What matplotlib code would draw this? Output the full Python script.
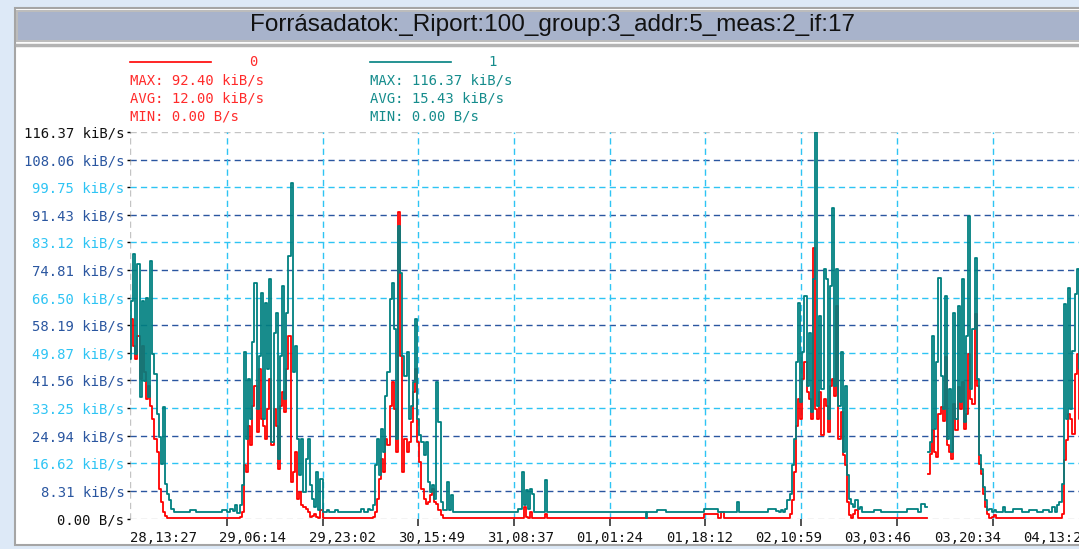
import numpy as np
import matplotlib
matplotlib.use('Agg')
import matplotlib.pyplot as plt
from matplotlib.patches import Rectangle
from matplotlib.lines import Line2D

W, H = 1079, 549

title = 'Forrásadatok:_Riport:100_group:3_addr:5_meas:2_if:17'

# y axis ticks / labels (kiB/s)
y_ticks = [0.00, 8.31, 16.62, 24.94, 33.25, 41.56, 49.87, 58.19, 66.50,
           74.81, 83.12, 91.43, 99.75, 108.06, 116.37]
y_labels = ['0.00 B/s', '8.31 kiB/s', '16.62 kiB/s', '24.94 kiB/s', '33.25 kiB/s',
            '41.56 kiB/s', '49.87 kiB/s', '58.19 kiB/s', '66.50 kiB/s', '74.81 kiB/s',
            '83.12 kiB/s', '91.43 kiB/s', '99.75 kiB/s', '108.06 kiB/s', '116.37 kiB/s']

# x axis: hours since 28,13:27
x_label_hours = [0.0, 16.79, 33.58, 50.37, 67.17, 83.96, 100.75, 117.54, 134.33, 151.12, 167.92]
x_labels = ['28,13:27', '29,06:14', '29,23:02', '30,15:49', '31,08:37', '01,01:24',
            '01,18:12', '02,10:59', '03,03:46', '03,20:34', '04,13:22']
x_grid_hours = [18.2, 36.2, 54.2, 72.2, 90.2, 108.2, 126.2, 144.2, 162.2, 180.2]

# legend
series_names = ['0', '1']
stat_max = ['92.40 kiB/s', '116.37 kiB/s']
stat_avg = ['12.00 kiB/s', '15.43 kiB/s']
stat_min = ['0.00 B/s', '0.00 B/s']

# busy periods, one sample every 0.4 h
sample_step = 0.4
burst_starts = [0.0, 20.4, 44.2, 122.2, 150.2, 175.0]

b1_teal = [48, 65.5, 79.5, 49.5, 76.5, 36.5, 65.5, 41.5, 66.5, 36.5,
           77.5, 49.5, 43.5, 31.5, 24.5, 16.5, 33.5, 10.5, 7.5, 5.5,
           3.0, 2.0]
b1_red = [50, 60, 52, 48, 55, 42, 52, 44, 36, 40,
          34, 30, 24, 20, 9, 5, 2, 0.8, 0.3, 0.1,
          0.1, 0.1]

b2_teal = [1.8, 4, 10, 50, 24, 42, 30, 53, 71, 33,
           49, 68, 30, 65, 45, 72, 23, 56, 62, 18,
           49, 70, 36, 62, 79, 101, 44, 52, 24, 13,
           24, 8, 18, 24, 10, 6, 3.5, 14, 2.5, 12,
           2, 2, 2.5, 2]
b2_red = [0.1, 0.5, 2, 16, 14, 28, 22, 34, 40, 26,
          45, 30, 28, 24, 33, 42, 22, 33, 28, 15,
          34, 38, 32, 45, 55, 11, 14, 20, 6, 8,
          4, 3.5, 3, 2, 0.5, 0.8, 1.5, 0.5, 0.3, 2.5,
          0.3, 0.1, 0.1, 0.1]

b3_teal = [2, 2, 3, 2.5, 4, 16, 24, 13, 27, 20,
           37, 44, 66, 71, 57, 24, 88, 74, 49, 43,
           50, 30, 34, 41, 60, 30, 25, 23, 19, 23,
           11, 8, 10, 6, 41, 29, 5, 2.5, 2.5, 11,
           2.5, 7, 2]
b3_red = [0.1, 0.1, 0.1, 0.3, 0.5, 2, 6, 12, 18, 14,
          24, 22, 34, 41, 33, 20, 92.4, 49, 14, 24,
          20, 23, 29, 38, 45, 23, 17, 9, 6, 4.5,
          5, 7, 9, 5, 4.5, 2.5, 1, 0.3, 0.1, 0.1,
          0.1, 0.1, 0.1]

b4_teal = [2, 2.5, 2, 3, 5.5, 7.5, 16, 24, 47, 65,
           35, 50, 67, 40, 56, 32, 72, 116.37, 34, 61,
           39, 75, 72, 30, 70, 93.5, 40, 75, 34, 50,
           20, 40, 13, 6, 4.5, 3.5, 5.5, 3, 3.5, 2,
           2]
b4_red = [0.1, 0.1, 0.1, 0.1, 0.3, 1.5, 5.5, 14, 28, 36,
          30, 42, 47, 38, 36, 30, 81.5, 33, 30, 38,
          25, 36, 34, 26, 40, 42, 37, 64, 24, 32,
          19, 16, 5, 1, 0.3, 1.5, 2.5, 0.3, 0.1, 0.1,
          0.1]

b5_teal = [20, 23, 55, 27, 47, 72.5, 43, 33, 67, 24,
           39, 20, 62, 30, 64, 35, 72, 29, 55, 91,
           39, 57, 78.5, 42, 19, 15, 9.5, 5.5, 2.5, 3,
           2, 2.5, 2, 2]
b5_red = [13.5, 19.5, 26.5, 20, 18.5, 31.5, 33.5, 29.5, 48.5, 22,
          20, 18, 34.5, 26.5, 39.5, 33, 41, 27, 31.5, 49.5,
          36, 34.5, 61.5, 40, 16.5, 13.5, 7.5, 3.5, 1.5, 0.1,
          0.5, 1, 0.1, 0.1]

b6_teal = [5, 10.5, 64.5, 30, 69.5, 33, 50.5, 67.5, 75, 45, 80]
b6_red = [0.3, 1.5, 17.5, 23.5, 31.5, 30, 25.5, 43.5, 49.5, 30, 45]

# quiet periods (irregular points), nan = missing data
nan = float('nan')
quiet_hours = [8.8, 10.5, 12.2, 12.5, 14.5, 16.5, 18.0, 18.4, 19.2, 19.6, 20.0,
               38.0, 39.0, 39.4, 41.0, 43.0, 43.8,
               61.6, 64.0, 67.0, 70.0, 72.4, 73.5, 74.0, 74.3, 74.6, 75.0, 75.4, 75.8,
               76.1, 77.8, 78.2, 78.6,
               82.7, 88.4, 94.0, 97.0, 97.2, 97.4, 100.6, 101.0, 105.3, 110.4, 110.7,
               111.5, 111.9, 114.1, 114.3, 114.7, 118.5, 121.3, 121.8,
               138.6, 141.0, 141.4, 144.0, 148.0, 148.5, 149.1, 149.7, 150.0,
               163.8, 164.3, 164.7, 167.5, 167.9, 170.3, 170.7, 172.6, 173.0, 173.7,
               174.1, 174.5]
quiet_teal = [2.0, 2.0, 2.6, 2.0, 2.0, 2.0, 2.6, 2.0, 3.0, 2.2, 4.0,
              2.0, 2.5, 2.0, 2.0, 2.0, 2.8,
              2.0, 2.0, 2.0, 2.0, 2.0, 2.8, 14.0, 4.0, 8.5, 3.0, 9.0, 7.5,
              2.0, 2.0, 11.7, 2.0,
              2.0, 2.0, 2.0, 2.0, 0.3, 2.0, 2.7, 2.0, 2.0, 3.0, 2.0,
              2.0, 2.0, 2.0, 5.0, 2.0, 2.0, 3.0, 2.2,
              2.0, 2.5, 2.0, 2.0, 3.0, 2.0, 4.5, 3.5, nan,
              2.0, 3.5, 2.0, 3.0, 2.0, 2.5, 2.0, 2.5, 2.0, 3.5,
              2.0, 4.0]
quiet_red = [0.1, 0.1, 0.1, 0.1, 0.1, 0.1, 0.1, 0.1, 0.1, 0.1, 0.1,
             0.1, 0.1, 0.1, 0.1, 0.1, 0.1,
             0.1, 0.1, 0.1, 0.1, 0.1, 0.1, 0.3, 3.5, 0.5, 0.3, 2.0, 0.3,
             0.1, 0.1, 1.5, 0.1,
             0.1, 0.1, 0.1, 0.1, 0.1, 0.1, 0.1, 0.1, 0.1, 1.5, 0.1,
             2.0, 0.1, 0.1, 0.1, 0.1, 0.1, 0.1, 0.1,
             0.1, 0.1, 0.1, 0.1, 0.1, 0.1, 0.1, 0.1, nan,
             0.1, 0.1, 0.1, 0.1, 0.1, 0.1, 0.1, 0.1, 0.1, 0.1,
             0.1, 0.1]

RED = '#ff0000'
TEAL = '#008080'
DARK_BLUE = '#2a56a0'
LIGHT_BLUE = '#2ec4f4'
GRAY = '#c4c4c4'
MONO = 'DejaVu Sans Mono'

# merge bursts and quiet points
hours, teal, red = list(quiet_hours), list(quiet_teal), list(quiet_red)
for start, tv, rv in zip(burst_starts,
                         [b1_teal, b2_teal, b3_teal, b4_teal, b5_teal, b6_teal],
                         [b1_red, b2_red, b3_red, b4_red, b5_red, b6_red]):
    for i, (t, r) in enumerate(zip(tv, rv)):
        hours.append(start + i * sample_step)
        teal.append(t)
        red.append(r)
order = np.argsort(hours)
hours = np.array(hours)[order]
teal = np.array(teal)[order]
red = np.array(red)[order]


def fx(px):
    return px / W


def fy(py):
    return 1 - py / H


fig = plt.figure(figsize=(W / 100, H / 100), dpi=100, facecolor='#dde9f7')

# window frame and title bar
fig.patches.append(Rectangle((fx(15), fy(545)), fx(1100) - fx(15), fy(8) - fy(545),
                             transform=fig.transFigure, facecolor='white',
                             edgecolor='#a5a5a5', lw=1.5, zorder=-2))
fig.patches.append(Rectangle((fx(17), fy(41)), fx(1100) - fx(17), fy(11) - fy(41),
                             transform=fig.transFigure, facecolor='#a8b3cb',
                             edgecolor='#bcbcbc', lw=1.5, zorder=-1))
fig.lines.append(Line2D([fx(17), fx(1100)], [fy(45), fy(45)], transform=fig.transFigure,
                        color='#b3b3b3', lw=2.5))
fig.text(fx(553), fy(25), title, ha='center', va='center', fontsize=17.5,
         family='Liberation Sans', color='#111111')

# legend block
for name, col, tcol, x0, mx, av, mn in zip(series_names, [RED, TEAL], ['#ff2b2b', '#158c8c'],
                                           [130, 370], stat_max, stat_avg, stat_min):
    fig.lines.append(Line2D([fx(x0), fx(x0 + 81)], [fy(62), fy(62)],
                            transform=fig.transFigure, color=col, lw=1.2))
    fig.text(fx(x0 + 123), fy(62), name, ha='center', va='center', fontsize=10,
             family=MONO, color=tcol)
    fig.text(fx(x0), fy(81), 'MAX: ' + mx, ha='left', va='center', fontsize=10,
             family=MONO, color=tcol)
    fig.text(fx(x0), fy(99), 'AVG: ' + av, ha='left', va='center', fontsize=10,
             family=MONO, color=tcol)
    fig.text(fx(x0), fy(117), 'MIN: ' + mn, ha='left', va='center', fontsize=10,
             family=MONO, color=tcol)

ax = fig.add_axes([fx(130), fy(518.5), fx(1100) - fx(130), fy(132) - fy(518.5)])
ax.set_facecolor('none')
for s in ax.spines.values():
    s.set_visible(False)
ax.set_xlim(0, (1100 - 130) * 0.18802)
ax.set_ylim(0, 116.37)

# grid
label_colors = []
for k, y in enumerate(y_ticks):
    if k == 0 or k == len(y_ticks) - 1:
        c, gc = '#111111', GRAY
    elif k % 2 == 1:
        c, gc = DARK_BLUE, DARK_BLUE
    else:
        c, gc = LIGHT_BLUE, LIGHT_BLUE
    label_colors.append(c)
    ax.axhline(y, color=gc, lw=1.0, ls=(0, (4.5, 3)), zorder=1)
for x in x_grid_hours:
    ax.axvline(x, color=LIGHT_BLUE, lw=1.0, ls=(0, (4.5, 3)), zorder=1)
ax.axvline(0, color=GRAY, lw=1.0, ls=(0, (4.5, 3)), zorder=1)

# data (step lines, like the rrd style graph)
ax.plot(hours, red, color=RED, lw=1.3, drawstyle='steps-mid', zorder=2)
ax.plot(hours, teal, color=TEAL, lw=1.3, drawstyle='steps-mid', zorder=3)

# y ticks
ax.set_yticks(y_ticks)
ax.set_yticklabels(y_labels, fontsize=10, family=MONO)
ax.tick_params(axis='y', length=2.5, width=1, pad=1.5)
for tick, c in zip(ax.yaxis.get_major_ticks(), label_colors):
    tick.label1.set_color(c)
    tick.tick1line.set_color(c)

# x ticks: marks at grid lines, labels at their own positions
ax.set_xticks(x_grid_hours)
ax.set_xticklabels([''] * len(x_grid_hours))
ax.tick_params(axis='x', which='major', direction='out', length=5, width=1.1, color='#222222')
ax.set_xticks(x_label_hours, minor=True)
ax.set_xticklabels(x_labels, minor=True, fontsize=10, family=MONO)
ax.tick_params(axis='x', which='minor', length=0, pad=9)
for lbl in ax.get_xticklabels(minor=True):
    lbl.set_horizontalalignment('left')
    lbl.set_color('#111111')

fig.savefig('out.png', dpi=100)
